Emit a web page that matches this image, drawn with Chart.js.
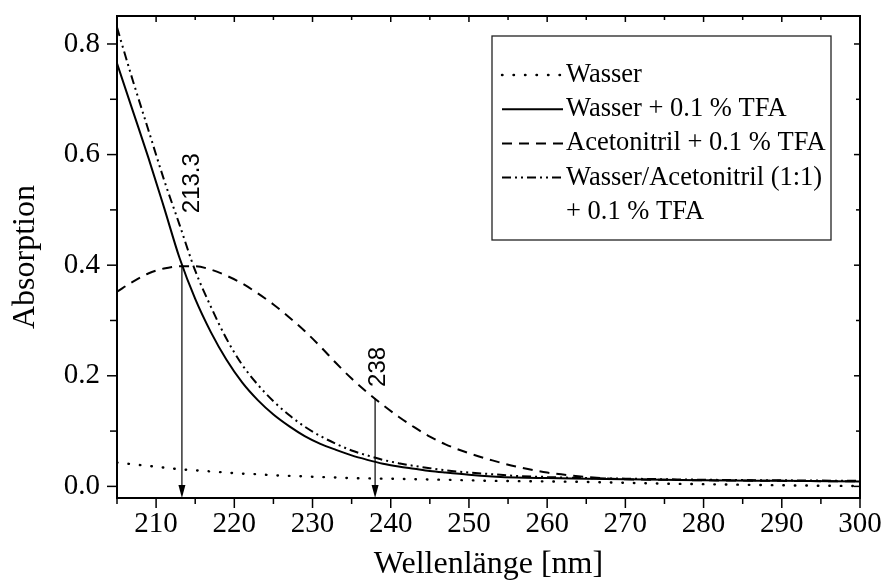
<!DOCTYPE html>
<html>
<head>
<meta charset="utf-8">
<script src="https://cdn.jsdelivr.net/npm/chart.js@4.4.0/dist/chart.umd.min.js"></script>
<style>
  body { margin: 0; background: #fff; }
  #wrap { width: 887px; height: 581px; }
</style>
</head>
<body>
<div id="wrap"><canvas id="uvChart" width="887" height="581"></canvas></div>
<script>
// wavelength grid (nm), shared by all spectra
const wavelengths = [205, 207, 209, 211, 213, 215, 217, 219, 221, 223, 225, 227, 229, 231, 233, 235,
    237, 239, 241, 243, 245, 247, 250, 253, 256, 260, 265, 270, 275, 280, 290, 300];

// absorption values
const wasser = [0.043, 0.040, 0.037, 0.034, 0.031, 0.029, 0.027, 0.025, 0.023, 0.022, 0.020, 0.019,
    0.018, 0.017, 0.016, 0.015, 0.0145, 0.014, 0.0135, 0.013, 0.0125, 0.012, 0.011, 0.010, 0.0095,
    0.009, 0.008, 0.0065, 0.005, 0.004, 0.002, 0.0005];
const wasserTfa = [0.765, 0.68, 0.595, 0.505, 0.413, 0.339, 0.279, 0.229, 0.188, 0.156, 0.130, 0.109,
    0.091, 0.077, 0.066, 0.056, 0.048, 0.041, 0.036, 0.032, 0.028, 0.025, 0.021, 0.018, 0.016,
    0.015, 0.014, 0.013, 0.012, 0.011, 0.010, 0.009];
const acnTfa = [0.352, 0.370, 0.385, 0.394, 0.398, 0.398, 0.392, 0.381, 0.367, 0.349, 0.329, 0.306,
    0.281, 0.253, 0.223, 0.195, 0.170, 0.147, 0.126, 0.107, 0.090, 0.076, 0.060, 0.047, 0.036,
    0.025, 0.017, 0.013, 0.012, 0.011, 0.010, 0.009];
const mixTfa = [0.83, 0.735, 0.645, 0.555, 0.473, 0.39, 0.325, 0.267, 0.22, 0.184, 0.154, 0.129,
    0.108, 0.091, 0.077, 0.065, 0.056, 0.048, 0.042, 0.037, 0.033, 0.029, 0.025, 0.022, 0.019,
    0.017, 0.015, 0.014, 0.013, 0.012, 0.011, 0.010];

const seriesLabels = ['Wasser', 'Wasser + 0.1 % TFA', 'Acetonitril + 0.1 % TFA',
    'Wasser/Acetonitril (1:1)\n+ 0.1 % TFA'];

// marked wavelengths (arrows) and where each arrow starts
const markerNm = [213.3, 238];
const markerTop = [0.4, 0.16];
const markerText = ['213.3', '238'];

const serif = 'Liberation Serif, Times New Roman, serif';

function toPoints(values) {
    return values.map((v, i) => ({ x: wavelengths[i], y: v }));
}

// arrows + rotated labels
const markers = {
    id: 'markers',
    afterDatasetsDraw(chart) {
        const { ctx, chartArea: a, scales: { x, y } } = chart;
        const textShift = [[10, -52], [3, -11]];
        ctx.save();
        ctx.strokeStyle = '#000';
        ctx.fillStyle = '#000';
        ctx.lineWidth = 1.2;
        markerNm.forEach((nm, i) => {
            const px = x.getPixelForValue(nm);
            const top = y.getPixelForValue(markerTop[i]);
            ctx.beginPath();
            ctx.moveTo(px, top);
            ctx.lineTo(px, a.bottom - 10);
            ctx.stroke();
            ctx.beginPath();
            ctx.moveTo(px, a.bottom);
            ctx.lineTo(px - 3.5, a.bottom - 13);
            ctx.lineTo(px + 3.5, a.bottom - 13);
            ctx.closePath();
            ctx.fill();

            ctx.save();
            ctx.translate(px + textShift[i][0], top + textShift[i][1]);
            ctx.rotate(-Math.PI / 2);
            ctx.font = '24px Liberation Sans, Arial, sans-serif';
            ctx.textAlign = 'left';
            ctx.textBaseline = 'middle';
            ctx.fillText(markerText[i], 0, 0);
            ctx.restore();
        });
        ctx.restore();
    }
};

// box frame with outward ticks (left/bottom) and inward ticks (top/right), plus legend
const frame = {
    id: 'frame',
    afterDraw(chart) {
        const { ctx, chartArea: a, scales: { x, y } } = chart;
        ctx.save();
        ctx.strokeStyle = '#000';
        ctx.lineWidth = 1.5;
        const seg = (x1, y1, x2, y2) => {
            ctx.beginPath(); ctx.moveTo(x1, y1); ctx.lineTo(x2, y2); ctx.stroke();
        };
        for (let v = 205; v <= 300; v += 5) {
            const px = x.getPixelForValue(v);
            const major = v % 10 === 0;
            seg(px, a.bottom, px, a.bottom + (major ? 10 : 6));
            seg(px, a.top, px, a.top + (major ? 6 : 4));
        }
        for (let i = 0; i <= 8; i++) {
            const py = y.getPixelForValue(i / 10);
            const major = i % 2 === 0;
            seg(a.left, py, a.left - (major ? 10 : 7), py);
            seg(a.right, py, a.right - (major ? 6 : 4), py);
        }
        ctx.lineWidth = 2;
        ctx.strokeRect(a.left, a.top, a.right - a.left, a.bottom - a.top);

        // legend box
        ctx.lineWidth = 1.3;
        ctx.strokeStyle = '#222';
        ctx.strokeRect(492, 36, 339, 204);
        ctx.font = '26.5px ' + serif;
        ctx.fillStyle = '#000';
        ctx.textBaseline = 'alphabetic';
        let base = 82;
        chart.data.datasets.forEach(ds => {
            ctx.strokeStyle = '#000';
            ctx.lineWidth = ds.borderWidth;
            ctx.setLineDash(ds.borderDash || []);
            ctx.lineCap = ds.borderCapStyle || 'butt';
            seg(502, base - 7, 563, base - 7);
            ctx.setLineDash([]);
            ds.label.split('\n').forEach(line => {
                ctx.fillText(line, 566, base);
                base += 34.2;
            });
        });
        ctx.restore();
    }
};

const ctx = document.getElementById('uvChart').getContext('2d');
new Chart(ctx, {
    type: 'line',
    data: {
        datasets: [
            {
                label: seriesLabels[0],
                data: toPoints(wasser),
                borderColor: '#000',
                borderWidth: 2.4,
                borderDash: [0.5, 11],
                borderCapStyle: 'round'
            },
            {
                label: seriesLabels[1],
                data: toPoints(wasserTfa),
                borderColor: '#000',
                borderWidth: 2
            },
            {
                label: seriesLabels[2],
                data: toPoints(acnTfa),
                borderColor: '#000',
                borderWidth: 2,
                borderDash: [10, 7]
            },
            {
                label: seriesLabels[3],
                data: toPoints(mixTfa),
                borderColor: '#000',
                borderWidth: 2,
                borderDash: [9, 4, 2, 4, 2, 4]
            }
        ]
    },
    options: {
        responsive: false,
        devicePixelRatio: 1,
        animation: false,
        layout: { padding: { top: 16, right: 27, left: 0, bottom: 0 } },
        elements: {
            point: { radius: 0 },
            line: { cubicInterpolationMode: 'monotone', fill: false }
        },
        plugins: { legend: { display: false }, tooltip: { enabled: false } },
        scales: {
            x: {
                type: 'linear',
                min: 205,
                max: 300,
                grid: { display: false, drawTicks: false },
                border: { display: false },
                ticks: {
                    stepSize: 10,
                    includeBounds: false,
                    padding: 9,
                    color: '#000',
                    font: { family: serif, size: 29 },
                    callback: v => String(v)
                },
                title: {
                    display: true,
                    text: 'Wellenlänge [nm]',
                    color: '#000',
                    font: { family: serif, size: 32, lineHeight: 1 },
                    padding: { top: 0, bottom: 0 }
                },
                afterFit: s => {
                    s.height = 83;
                    s.paddingLeft = 0;
                    s.paddingRight = 0;
                }
            },
            y: {
                min: -0.021,
                max: 0.8506,
                grid: { display: false, drawTicks: false },
                border: { display: false },
                ticks: {
                    stepSize: 0.2,
                    includeBounds: false,
                    padding: 17,
                    color: '#000',
                    font: { family: serif, size: 29 },
                    callback: v => v.toFixed(1)
                },
                title: {
                    display: true,
                    text: 'Absorption',
                    color: '#000',
                    font: { family: serif, size: 32, lineHeight: 1 },
                    padding: { top: 10, bottom: 0 }
                },
                afterFit: s => {
                    s.width = 117;
                    s.paddingTop = 0;
                    s.paddingBottom = 0;
                }
            }
        }
    },
    plugins: [markers, frame]
});
</script>
</body>
</html>
